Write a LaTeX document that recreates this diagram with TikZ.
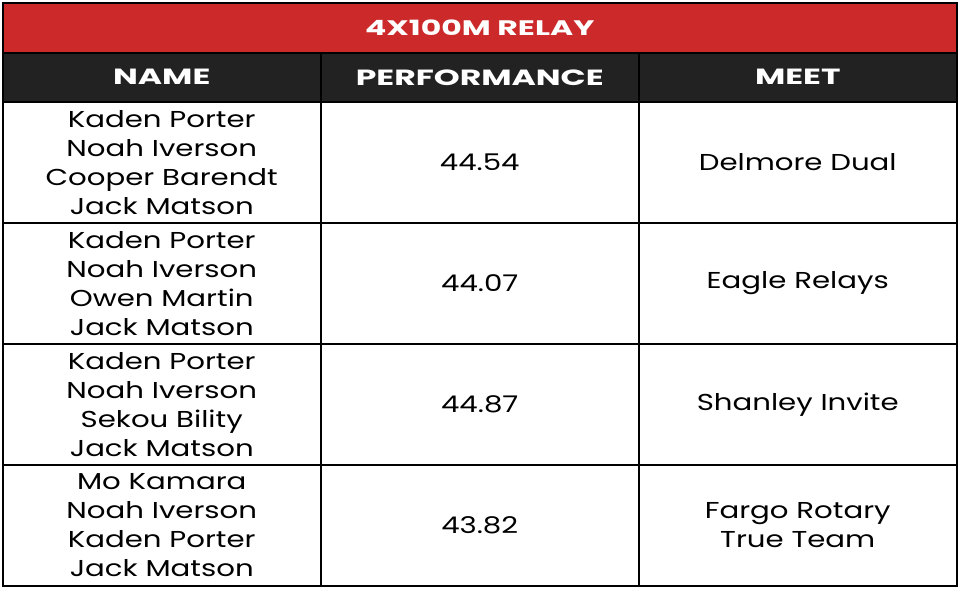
\documentclass[tikz,border=0pt]{standalone}
\usepackage{fontspec}
\setmainfont{Poppins}
\newfontfamily\bodyfont[FakeStretch=1.27]{Poppins}
\newfontfamily\headfont[FakeStretch=1.5]{Poppins}
\definecolor{relayred}{HTML}{CC2A2A}
\definecolor{hdark}{HTML}{222222}
\begin{document}
\begin{tikzpicture}[x=1pt,y=-1pt,
  cell/.style={draw=black,line width=1.5pt,inner sep=0pt,anchor=north west,align=center,font=\bodyfont\fontsize{23}{29}\selectfont},
  hcell/.style={cell,fill=hdark,text=white,font=\headfont\fontsize{22}{25}\selectfont\bfseries},
]
\useasboundingbox[fill=white] (0,0) rectangle (958,597);
\node[cell,fill=relayred,text=white,font=\headfont\fontsize{21}{24}\selectfont\bfseries,minimum width=954pt,minimum height=50pt] (title) at (2,2) {4X100M RELAY};
\node[hcell,minimum width=318pt,minimum height=49pt] (h1) at (2,52) {NAME};
\node[hcell,minimum width=318pt,minimum height=49pt] (h2) at (320,52) {PERFORMANCE};
\node[hcell,minimum width=318pt,minimum height=49pt] (h3) at (638,52) {MEET};
\foreach \i/\names/\perf/\meet in {
 0/{Kaden Porter\\Noah Iverson\\Cooper Barendt\\Jack Matson}/44.54/{Delmore Dual},
 1/{Kaden Porter\\Noah Iverson\\Owen Martin\\Jack Matson}/44.07/{Eagle Relays},
 2/{Kaden Porter\\Noah Iverson\\Sekou Bility\\Jack Matson}/44.87/{Shanley Invite},
 3/{Mo Kamara\\Noah Iverson\\Kaden Porter\\Jack Matson}/43.82/{Fargo Rotary\\True Team}}{
 \node[cell,minimum width=318pt,minimum height=121pt] (n\i) at (2,101+121*\i) {\names};
 \node[cell,minimum width=318pt,minimum height=121pt] (p\i) at (320,101+121*\i) {\perf};
 \node[cell,minimum width=318pt,minimum height=121pt] (m\i) at (638,101+121*\i) {\meet};
}
\end{tikzpicture}
\end{document}
